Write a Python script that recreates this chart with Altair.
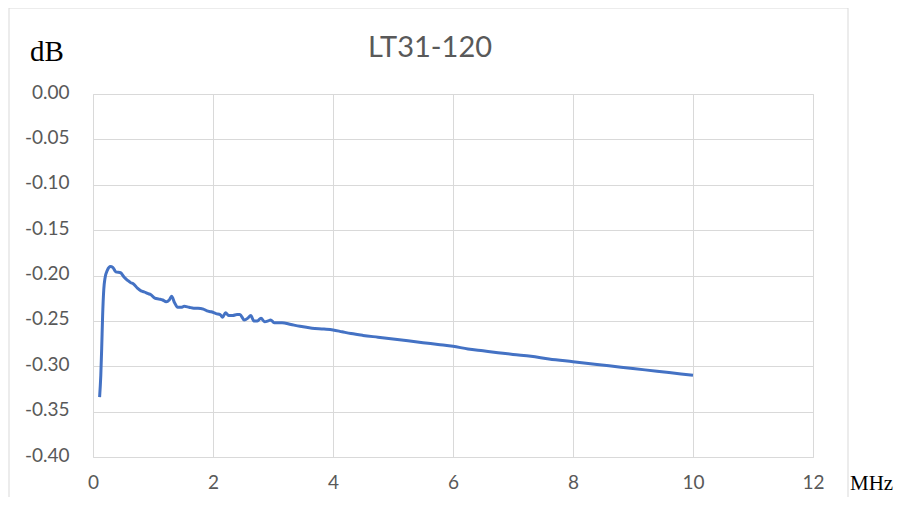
import altair as alt
import pandas as pd

freq_mhz = [0.11, 0.13, 0.145, 0.16, 0.18, 0.20, 0.24, 0.29, 0.33, 0.38, 0.46, 0.52,
            0.57, 0.63, 0.67, 0.74, 0.80, 0.85, 0.92, 0.96, 1.03, 1.10, 1.16, 1.22,
            1.27, 1.31, 1.36, 1.41, 1.47, 1.52, 1.60, 1.68, 1.75, 1.84, 1.90, 1.97,
            2.05, 2.12, 2.16, 2.21, 2.26, 2.33, 2.40, 2.45, 2.52, 2.58, 2.63, 2.68,
            2.74, 2.80, 2.86, 2.92, 2.96, 3.02, 3.15, 3.30, 3.45, 3.65, 3.85, 4.00,
            4.15, 4.30, 4.50, 4.75, 5.00, 5.25, 5.50, 5.75, 6.00, 6.25, 6.50, 6.75,
            7.00, 7.30, 7.60, 8.00, 8.40, 8.80, 9.20, 9.60, 10.0]
gain_db = [-0.334, -0.310, -0.280, -0.245, -0.215, -0.203, -0.194, -0.190, -0.191,
           -0.196, -0.197, -0.202, -0.205, -0.208, -0.209, -0.214, -0.217, -0.218,
           -0.220, -0.221, -0.225, -0.226, -0.227, -0.229, -0.227, -0.223, -0.230,
           -0.235, -0.235, -0.234, -0.235, -0.236, -0.236, -0.237, -0.239, -0.240,
           -0.242, -0.243, -0.246, -0.241, -0.244, -0.244, -0.243, -0.243, -0.249,
           -0.247, -0.244, -0.250, -0.250, -0.247, -0.251, -0.250, -0.249, -0.252,
           -0.252, -0.254, -0.256, -0.258, -0.259, -0.260, -0.262, -0.264, -0.266,
           -0.268, -0.270, -0.272, -0.274, -0.276, -0.278, -0.281, -0.283, -0.285,
           -0.287, -0.289, -0.292, -0.295, -0.298, -0.301, -0.304, -0.307, -0.310]

x_ticks = [0, 2, 4, 6, 8, 10, 12]
y_ticks = [0.0, -0.05, -0.10, -0.15, -0.20, -0.25, -0.30, -0.35, -0.40]
title_text = "LT31-120"
y_unit = "dB"
x_unit = "MHz"

df = pd.DataFrame({"f": freq_mhz, "db": gain_db})
one = pd.DataFrame({"a": [0]})

GRAY = "#595959"
GRID = "#d9d9d9"

line = alt.Chart(df).mark_line(color="#4472C4", strokeWidth=3, interpolate="monotone").encode(
    x=alt.X("f:Q", scale=alt.Scale(domain=[0, 12], nice=False),
            axis=alt.Axis(values=x_ticks, title=None, ticks=False, domain=False,
                          labelPadding=16, labelFontSize=19, labelFont="Lato",
                          labelColor=GRAY, gridColor=GRID, labelFlush=False)),
    y=alt.Y("db:Q", scale=alt.Scale(domain=[-0.40, 0], nice=False),
            axis=alt.Axis(values=y_ticks, title=None, ticks=False, domain=False,
                          labelPadding=24, labelFontSize=19, labelFont="Lato",
                          labelColor=GRAY, gridColor=GRID, labelFlush=False,
                          labelOffset=-2,
                          labelExpr="datum.value < -0.0001 ? '-' + format(-datum.value, '.2f') : format(0, '.2f')")),
)

frame = alt.Chart(one).mark_rect(fill=None, stroke=GRID, strokeWidth=1).encode(
    x=alt.value(-84), x2=alt.value(755), y=alt.value(-86), y2=alt.value(440)
)

title_lbl = alt.Chart(one).mark_text(text=title_text, font="Lato", fontSize=29,
                                     color=GRAY, align="center", baseline="alphabetic").encode(
    x=alt.value(337), y=alt.value(-37))
db_lbl = alt.Chart(one).mark_text(text=y_unit, font="Liberation Serif", fontSize=29,
                                  color="black", align="left", baseline="alphabetic").encode(
    x=alt.value(-63), y=alt.value(-33))
mhz_lbl = alt.Chart(one).mark_text(text=x_unit, font="Liberation Serif", fontSize=21,
                                   color="black", align="left", baseline="alphabetic").encode(
    x=alt.value(757), y=alt.value(396))

chart = alt.layer(frame, line, title_lbl, db_lbl, mhz_lbl).properties(
    width=720, height=363,
    autosize=alt.AutoSizeParams(type="none"),
    padding={"left": 85, "top": 86, "right": 82, "bottom": 40},
).configure_view(stroke=None).configure(background="white")

chart.save("out.html", embed_options={"renderer": "svg", "actions": False})
